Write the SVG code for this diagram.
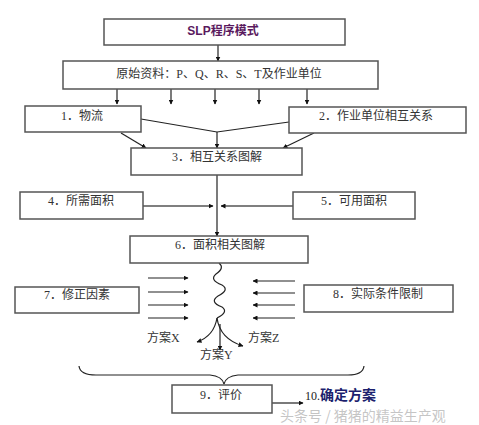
<svg xmlns="http://www.w3.org/2000/svg" width="479" height="425" viewBox="0 0 479 425">
<style>
.box{fill:#fff;stroke:#555;stroke-width:1.5}
.t{font-family:"Liberation Serif","Noto Sans CJK SC",serif;font-size:12px;fill:#333}
.c{stroke:#222;stroke-width:1.2;fill:none}
.g{stroke:#555;stroke-width:1.5;fill:none}
</style>
<defs>
<marker id="ah" viewBox="0 0 10 10" refX="9" refY="5" markerWidth="5" markerHeight="5" orient="auto" markerUnits="userSpaceOnUse"><path d="M0,0 L10,5 L0,10 z" fill="#111"/></marker>
</defs>
<rect width="479" height="425" fill="#fff"/>
<g id="connectors">
<path class="c" d="M218,45 V61" marker-end="url(#ah)"/>
<path class="c" d="M117,89 V104" marker-end="url(#ah)"/>
<path class="c" d="M171,89 V104" marker-end="url(#ah)"/>
<path class="c" d="M215,89 V104" marker-end="url(#ah)"/>
<path class="c" d="M259,89 V104" marker-end="url(#ah)"/>
<path class="c" d="M307,89 V104" marker-end="url(#ah)"/>
<path class="c" d="M141,119 L217,132 L289,122"/>
<path class="c" d="M217,132 V148" marker-end="url(#ah)"/>
<path class="c" d="M121,133 L146,148" marker-end="url(#ah)"/>
<path class="c" d="M314,133 L283,148" marker-end="url(#ah)"/>
<path class="c" d="M217,175 V236" marker-end="url(#ah)"/>
<path class="g" d="M143,206 H213" marker-end="url(#ah)"/>
<path class="g" d="M293,206 H221" marker-end="url(#ah)"/>
<path class="c" d="M219,263 Q225,268 216,274 Q209,280 222,285 Q230,290 218,296 Q209,302 222,307 Q229,312 217,318"/>
<path class="c" d="M148,278 H188" marker-end="url(#ah)"/>
<path class="c" d="M148,292 H188" marker-end="url(#ah)"/>
<path class="c" d="M148,305 H188" marker-end="url(#ah)"/>
<path class="c" d="M148,318 H188" marker-end="url(#ah)"/>
<path class="c" d="M295,281 H253" marker-end="url(#ah)"/>
<path class="c" d="M295,293 H253" marker-end="url(#ah)"/>
<path class="c" d="M295,305 H253" marker-end="url(#ah)"/>
<path class="c" d="M295,318 H253" marker-end="url(#ah)"/>
<path class="c" d="M217,318 Q214,336 197,342" marker-end="url(#ah)"/>
<path class="c" d="M217,318 Q220,339 243,346" marker-end="url(#ah)"/>
<path class="c" d="M220,324 V350" marker-end="url(#ah)"/>
<path class="c" d="M79,366 Q80,375 96,375 L210,375 Q222,376 224,384 Q226,376 238,375 L348,375 Q363,375 364,366"/>
<path class="c" d="M272,403 H303" marker-end="url(#ah)"/>
</g>
<g id="n-slp"><rect class="box" x="104" y="19" width="241" height="26"/><text x="223" y="35" text-anchor="middle" style="font-family:'Liberation Sans','Noto Sans CJK SC',sans-serif;font-size:12px;font-weight:bold;fill:#5a1a5e">SLP程序模式</text></g>
<g id="n-data"><rect class="box" x="63" y="61" width="315" height="28"/><text class="t" x="219" y="78" text-anchor="middle">原始资料：P、Q、R、S、T及作业单位</text></g>
<g id="n1"><rect class="box" x="25" y="106" width="116" height="26"/><text class="t" x="61" y="120">1．物流</text></g>
<g id="n2"><rect class="box" x="289" y="107" width="177" height="26"/><text class="t" x="319" y="120">2．作业单位相互关系</text></g>
<g id="n3"><rect class="box" x="131" y="148" width="171" height="27"/><text class="t" x="172" y="161">3．相互关系图解</text></g>
<g id="n4"><rect class="box" x="20" y="192" width="123" height="27"/><text class="t" x="48" y="205">4．所需面积</text></g>
<g id="n5"><rect class="box" x="293" y="192" width="122" height="27"/><text class="t" x="321" y="205">5．可用面积</text></g>
<g id="n6"><rect class="box" x="130" y="236" width="178" height="27"/><text class="t" x="175" y="249">6．面积相关图解</text></g>
<g id="n7"><rect class="box" x="15" y="287" width="124" height="26"/><text class="t" x="44" y="299">7．修正因素</text></g>
<g id="n8"><rect class="box" x="304" y="285" width="149" height="27"/><text class="t" x="333" y="298">8．实际条件限制</text></g>
<g id="lx"><text class="t" x="147" y="342">方案X</text></g>
<g id="lz"><text class="t" x="248" y="342">方案Z</text></g>
<g id="ly"><text class="t" x="200" y="359">方案Y</text></g>
<g id="n9"><rect class="box" x="172" y="385" width="100" height="28"/><text class="t" x="200" y="399">9．评价</text></g>
<g id="n10"><text x="305" y="400" style="font-family:'Liberation Serif','Noto Sans CJK SC',serif;font-size:12px;fill:#222">10.<tspan style="font-family:'Liberation Sans','Noto Sans CJK SC',sans-serif;font-size:14px;font-weight:bold;fill:#1c1f6e">确定方案</tspan></text></g>
<g id="wm"><text x="280" y="421" style="font-family:'Noto Sans CJK SC',sans-serif;font-size:14px;fill:#bbb;fill-opacity:0.85">头条号 / 猪猪的精益生产观</text></g>
</svg>
